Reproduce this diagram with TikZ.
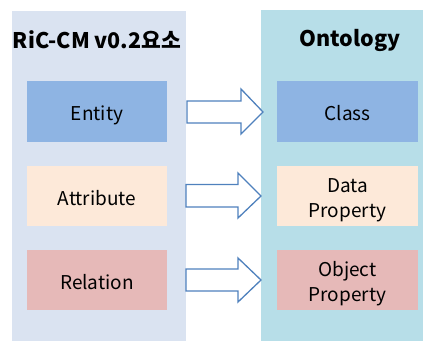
\documentclass[tikz,border=0pt]{standalone}
\usepackage{fontspec}
\setmainfont{Noto Sans CJK KR}
\definecolor{leftbg}{HTML}{DAE3F1}
\definecolor{rightbg}{HTML}{B7DEE8}
\definecolor{bluebox}{HTML}{8EB4E3}
\definecolor{peachbox}{HTML}{FDE9D9}
\definecolor{pinkbox}{HTML}{E6B9B8}
\definecolor{arrowline}{HTML}{4F81BD}
\newcommand{\boxlbl}[1]{\raisebox{-4pt}[\height][\depth]{\begin{tabular}{@{}c@{}}#1\end{tabular}}}
\tikzset{
  item/.style={inner sep=0pt, draw=none, align=center, font=\fontsize{19}{25}\selectfont, text=black},
  title/.style={font=\fontsize{21.5}{25}\selectfont\bfseries, text=black, inner sep=0pt},
  blockarrow/.style={draw=arrowline, fill=white, line width=1.3pt, line join=miter},
}
\begin{document}
\begin{tikzpicture}[x=1pt,y=-1pt]
\useasboundingbox (0,0) rectangle (425,341);
% panels
\fill[leftbg] (12,11) rectangle (186,341);
\fill[rightbg] (261,10) rectangle (423,341);
\node[title] (lt) at (97,40) {RiC-CM v0.2요소};
\node[title] (rt) at (350,40) {Ontology};
% left items
\node[item, fill=bluebox, minimum width=140pt, minimum height=61pt] (entity) at (97,111.5) {\boxlbl{Entity}};
\node[item, fill=peachbox, minimum width=140pt, minimum height=60pt] (attr) at (97,196) {\boxlbl{Attribute}};
\node[item, fill=pinkbox, minimum width=140pt, minimum height=60pt] (rel) at (97,280) {\boxlbl{Relation}};
% right items
\node[item, fill=bluebox, minimum width=141pt, minimum height=61pt] (class) at (347.5,111.5) {\boxlbl{Class}};
\node[item, fill=peachbox, minimum width=141pt, minimum height=60pt] (dprop) at (347.5,196) {\boxlbl{Data\\Property}};
\node[item, fill=pinkbox, minimum width=141pt, minimum height=60pt] (oprop) at (347.5,280) {\boxlbl{Object\\Property}};
% block arrows
\draw[blockarrow] (187,101) -- (241,101) -- (241,89) -- (263,112) -- (241,134) -- (241,123) -- (187,123) -- cycle;
\draw[blockarrow] (186,184.5) -- (238,184.5) -- (238,173) -- (261,196) -- (238,218) -- (238,207) -- (186,207) -- cycle;
\draw[blockarrow] (186,269) -- (238,269) -- (238,258) -- (261,280) -- (238,302) -- (238,291) -- (186,291) -- cycle;
\end{tikzpicture}
\end{document}
